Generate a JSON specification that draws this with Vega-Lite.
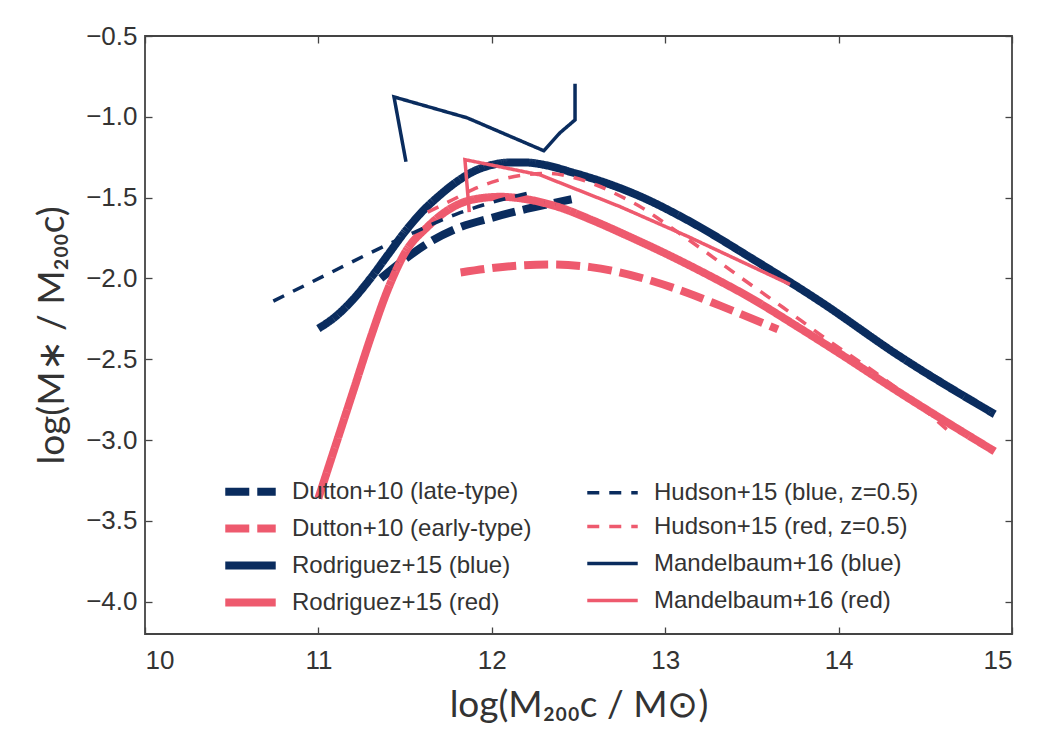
{
  "$schema": "https://vega.github.io/schema/vega-lite/v6.json",
  "width": 867,
  "height": 598,
  "autosize": {"type": "none"},
  "padding": {"left": 145, "top": 36, "right": 38, "bottom": 116},
  "background": "white",
  "config": {
    "view": {"stroke": "#444", "strokeWidth": 1.8},
    "axis": {
      "domain": false,
      "grid": false,
      "tickColor": "#444",
      "tickSize": -7,
      "tickWidth": 1.3,
      "labelFont": "Liberation Sans",
      "labelFontSize": 26,
      "labelColor": "#333",
      "titleFont": "Lato",
      "titleFontSize": 37,
      "titleFontWeight": "normal",
      "titleColor": "#333"
    },
    "legend": {
      "orient": "none",
      "legendX": 85,
      "legendY": 435,
      "columns": 2,
      "gridAlign": "each",
      "columnPadding": 48,
      "rowPadding": 0,
      "padding": 0,
      "symbolType": "M-1.55,0H1.55",
      "symbolSize": 1060,
      "labelFont": "Liberation Sans",
      "labelFontSize": 24,
      "labelColor": "#333",
      "labelOffset": 21,
      "labelLimit": 400
    }
  },
  "data": {
    "values": [
      {"series": "Dutton+10 (late-type)", "k": 0, "x": 11.36, "y": -2.0},
      {"series": "Dutton+10 (late-type)", "k": 1, "x": 11.5, "y": -1.88},
      {"series": "Dutton+10 (late-type)", "k": 2, "x": 11.65, "y": -1.77},
      {"series": "Dutton+10 (late-type)", "k": 3, "x": 11.8, "y": -1.69},
      {"series": "Dutton+10 (late-type)", "k": 4, "x": 12.0, "y": -1.625},
      {"series": "Dutton+10 (late-type)", "k": 5, "x": 12.2, "y": -1.57},
      {"series": "Dutton+10 (late-type)", "k": 6, "x": 12.46, "y": -1.51},

      {"series": "Dutton+10 (early-type)", "k": 0, "x": 11.82, "y": -1.963},
      {"series": "Dutton+10 (early-type)", "k": 1, "x": 12.09, "y": -1.926},
      {"series": "Dutton+10 (early-type)", "k": 2, "x": 12.34, "y": -1.914},
      {"series": "Dutton+10 (early-type)", "k": 3, "x": 12.57, "y": -1.93},
      {"series": "Dutton+10 (early-type)", "k": 4, "x": 12.84, "y": -1.99},
      {"series": "Dutton+10 (early-type)", "k": 5, "x": 13.13, "y": -2.09},
      {"series": "Dutton+10 (early-type)", "k": 6, "x": 13.32, "y": -2.17},
      {"series": "Dutton+10 (early-type)", "k": 7, "x": 13.65, "y": -2.315},

      {"series": "Rodriguez+15 (blue)", "k": 0, "x": 11.0, "y": -2.31},
      {"series": "Rodriguez+15 (blue)", "k": 1, "x": 11.1, "y": -2.235},
      {"series": "Rodriguez+15 (blue)", "k": 2, "x": 11.2, "y": -2.13},
      {"series": "Rodriguez+15 (blue)", "k": 3, "x": 11.3, "y": -2.0},
      {"series": "Rodriguez+15 (blue)", "k": 4, "x": 11.4, "y": -1.855},
      {"series": "Rodriguez+15 (blue)", "k": 5, "x": 11.5, "y": -1.71},
      {"series": "Rodriguez+15 (blue)", "k": 6, "x": 11.6, "y": -1.585},
      {"series": "Rodriguez+15 (blue)", "k": 7, "x": 11.7, "y": -1.485},
      {"series": "Rodriguez+15 (blue)", "k": 8, "x": 11.8, "y": -1.4},
      {"series": "Rodriguez+15 (blue)", "k": 9, "x": 11.9, "y": -1.335},
      {"series": "Rodriguez+15 (blue)", "k": 10, "x": 12.0, "y": -1.298},
      {"series": "Rodriguez+15 (blue)", "k": 11, "x": 12.1, "y": -1.283},
      {"series": "Rodriguez+15 (blue)", "k": 12, "x": 12.2, "y": -1.283},
      {"series": "Rodriguez+15 (blue)", "k": 13, "x": 12.3, "y": -1.297},
      {"series": "Rodriguez+15 (blue)", "k": 14, "x": 12.47, "y": -1.346},
      {"series": "Rodriguez+15 (blue)", "k": 15, "x": 12.66, "y": -1.41},
      {"series": "Rodriguez+15 (blue)", "k": 16, "x": 12.84, "y": -1.485},
      {"series": "Rodriguez+15 (blue)", "k": 17, "x": 13.13, "y": -1.64},
      {"series": "Rodriguez+15 (blue)", "k": 18, "x": 13.51, "y": -1.883},
      {"series": "Rodriguez+15 (blue)", "k": 19, "x": 13.89, "y": -2.14},
      {"series": "Rodriguez+15 (blue)", "k": 20, "x": 14.35, "y": -2.48},
      {"series": "Rodriguez+15 (blue)", "k": 21, "x": 14.9, "y": -2.84},

      {"series": "Rodriguez+15 (red)", "k": 0, "x": 11.0, "y": -3.36},
      {"series": "Rodriguez+15 (red)", "k": 1, "x": 11.1, "y": -3.03},
      {"series": "Rodriguez+15 (red)", "k": 2, "x": 11.2, "y": -2.7},
      {"series": "Rodriguez+15 (red)", "k": 3, "x": 11.3, "y": -2.37},
      {"series": "Rodriguez+15 (red)", "k": 4, "x": 11.4, "y": -2.07},
      {"series": "Rodriguez+15 (red)", "k": 5, "x": 11.5, "y": -1.84},
      {"series": "Rodriguez+15 (red)", "k": 6, "x": 11.63, "y": -1.68},
      {"series": "Rodriguez+15 (red)", "k": 7, "x": 11.78, "y": -1.556},
      {"series": "Rodriguez+15 (red)", "k": 8, "x": 11.9, "y": -1.51},
      {"series": "Rodriguez+15 (red)", "k": 9, "x": 12.05, "y": -1.495},
      {"series": "Rodriguez+15 (red)", "k": 10, "x": 12.2, "y": -1.51},
      {"series": "Rodriguez+15 (red)", "k": 11, "x": 12.39, "y": -1.56},
      {"series": "Rodriguez+15 (red)", "k": 12, "x": 12.58, "y": -1.64},
      {"series": "Rodriguez+15 (red)", "k": 13, "x": 12.78, "y": -1.735},
      {"series": "Rodriguez+15 (red)", "k": 14, "x": 13.0, "y": -1.845},
      {"series": "Rodriguez+15 (red)", "k": 15, "x": 13.25, "y": -1.98},
      {"series": "Rodriguez+15 (red)", "k": 16, "x": 13.5, "y": -2.125},
      {"series": "Rodriguez+15 (red)", "k": 17, "x": 13.75, "y": -2.29},
      {"series": "Rodriguez+15 (red)", "k": 18, "x": 14.0, "y": -2.46},
      {"series": "Rodriguez+15 (red)", "k": 19, "x": 14.35, "y": -2.705},
      {"series": "Rodriguez+15 (red)", "k": 20, "x": 14.9, "y": -3.07},

      {"series": "Hudson+15 (blue, z=0.5)", "k": 0, "x": 10.74, "y": -2.14},
      {"series": "Hudson+15 (blue, z=0.5)", "k": 1, "x": 11.05, "y": -1.975},
      {"series": "Hudson+15 (blue, z=0.5)", "k": 2, "x": 11.28, "y": -1.852},
      {"series": "Hudson+15 (blue, z=0.5)", "k": 3, "x": 11.55, "y": -1.716},
      {"series": "Hudson+15 (blue, z=0.5)", "k": 4, "x": 11.8, "y": -1.6},
      {"series": "Hudson+15 (blue, z=0.5)", "k": 5, "x": 12.0, "y": -1.53},
      {"series": "Hudson+15 (blue, z=0.5)", "k": 6, "x": 12.24, "y": -1.465},

      {"series": "Hudson+15 (red, z=0.5)", "k": 0, "x": 11.63, "y": -1.59},
      {"series": "Hudson+15 (red, z=0.5)", "k": 1, "x": 11.78, "y": -1.51},
      {"series": "Hudson+15 (red, z=0.5)", "k": 2, "x": 11.89, "y": -1.45},
      {"series": "Hudson+15 (red, z=0.5)", "k": 3, "x": 12.03, "y": -1.395},
      {"series": "Hudson+15 (red, z=0.5)", "k": 4, "x": 12.18, "y": -1.36},
      {"series": "Hudson+15 (red, z=0.5)", "k": 5, "x": 12.32, "y": -1.35},
      {"series": "Hudson+15 (red, z=0.5)", "k": 6, "x": 12.47, "y": -1.375},
      {"series": "Hudson+15 (red, z=0.5)", "k": 7, "x": 12.61, "y": -1.425},
      {"series": "Hudson+15 (red, z=0.5)", "k": 8, "x": 12.74, "y": -1.49},
      {"series": "Hudson+15 (red, z=0.5)", "k": 9, "x": 12.87, "y": -1.565},
      {"series": "Hudson+15 (red, z=0.5)", "k": 10, "x": 13.0, "y": -1.66},
      {"series": "Hudson+15 (red, z=0.5)", "k": 11, "x": 13.2, "y": -1.81},
      {"series": "Hudson+15 (red, z=0.5)", "k": 12, "x": 13.43, "y": -1.99},
      {"series": "Hudson+15 (red, z=0.5)", "k": 13, "x": 13.68, "y": -2.18},
      {"series": "Hudson+15 (red, z=0.5)", "k": 14, "x": 13.91, "y": -2.36},
      {"series": "Hudson+15 (red, z=0.5)", "k": 15, "x": 14.26, "y": -2.62},
      {"series": "Hudson+15 (red, z=0.5)", "k": 16, "x": 14.48, "y": -2.8},
      {"series": "Hudson+15 (red, z=0.5)", "k": 17, "x": 14.63, "y": -2.94},

      {"series": "Mandelbaum+16 (blue)", "k": 0, "x": 11.505, "y": -1.278},
      {"series": "Mandelbaum+16 (blue)", "k": 1, "x": 11.436, "y": -0.877},
      {"series": "Mandelbaum+16 (blue)", "k": 2, "x": 11.857, "y": -1.006},
      {"series": "Mandelbaum+16 (blue)", "k": 3, "x": 12.3, "y": -1.21},
      {"series": "Mandelbaum+16 (blue)", "k": 4, "x": 12.393, "y": -1.099},
      {"series": "Mandelbaum+16 (blue)", "k": 5, "x": 12.48, "y": -1.019},
      {"series": "Mandelbaum+16 (blue)", "k": 6, "x": 12.48, "y": -0.796},

      {"series": "Mandelbaum+16 (red)", "k": 0, "x": 11.87, "y": -1.59},
      {"series": "Mandelbaum+16 (red)", "k": 1, "x": 11.845, "y": -1.265},
      {"series": "Mandelbaum+16 (red)", "k": 2, "x": 12.28, "y": -1.36},
      {"series": "Mandelbaum+16 (red)", "k": 3, "x": 12.74, "y": -1.556},
      {"series": "Mandelbaum+16 (red)", "k": 4, "x": 13.13, "y": -1.74},
      {"series": "Mandelbaum+16 (red)", "k": 5, "x": 13.72, "y": -2.037}
    ]
  },
  "encoding": {
    "color": {
      "field": "series",
      "type": "nominal",
      "title": null,
      "scale": {
        "domain": ["Dutton+10 (late-type)", "Dutton+10 (early-type)", "Rodriguez+15 (blue)", "Rodriguez+15 (red)", "Hudson+15 (blue, z=0.5)", "Hudson+15 (red, z=0.5)", "Mandelbaum+16 (blue)", "Mandelbaum+16 (red)"],
        "range": ["#0a2c5e", "#ee5a6e", "#0a2c5e", "#ee5a6e", "#0a2c5e", "#ee5a6e", "#0a2c5e", "#ee5a6e"]
      }
    },
    "strokeDash": {
      "field": "series",
      "type": "nominal",
      "title": null,
      "scale": {
        "domain": ["Dutton+10 (late-type)", "Dutton+10 (early-type)", "Rodriguez+15 (blue)", "Rodriguez+15 (red)", "Hudson+15 (blue, z=0.5)", "Hudson+15 (red, z=0.5)", "Mandelbaum+16 (blue)", "Mandelbaum+16 (red)"],
        "range": [[24, 8], [24, 8], [1, 0], [1, 0], [12, 10], [12, 10], [1, 0], [1, 0]]
      }
    },
    "strokeWidth": {
      "field": "series",
      "type": "nominal",
      "title": null,
      "scale": {
        "type": "ordinal",
        "domain": ["Dutton+10 (late-type)", "Dutton+10 (early-type)", "Rodriguez+15 (blue)", "Rodriguez+15 (red)", "Hudson+15 (blue, z=0.5)", "Hudson+15 (red, z=0.5)", "Mandelbaum+16 (blue)", "Mandelbaum+16 (red)"],
        "range": [8, 8, 8, 8, 3.5, 3.5, 3.5, 3.5]
      }
    }
  },
  "layer": [
    {
      "transform": [
        {"filter": {"not": {"field": "series", "oneOf": ["Mandelbaum+16 (blue)", "Mandelbaum+16 (red)"]}}}
      ],
      "mark": {"type": "line", "interpolate": "monotone", "strokeCap": "butt"},
      "encoding": {
        "x": {
          "field": "x",
          "type": "quantitative",
          "scale": {"domain": [10, 15], "nice": false, "zero": false},
          "axis": {"orient": "bottom", "values": [10, 11, 12, 13, 14, 15], "format": "d", "labelPadding": 20, "title": "log(M₂₀₀c / M⊙)", "titlePadding": 14}
        },
        "y": {
          "field": "y",
          "type": "quantitative",
          "scale": {"domain": [-4.2, -0.5], "nice": false, "zero": false},
          "axis": {"orient": "left", "values": [-4, -3.5, -3, -2.5, -2, -1.5, -1, -0.5], "format": ".1f", "labelPadding": 15, "title": "log(M∗ / M₂₀₀c)", "titlePadding": 14}
        },
        "order": {"field": "k", "type": "quantitative"}
      }
    },
    {
      "transform": [
        {"filter": {"field": "series", "oneOf": ["Mandelbaum+16 (blue)", "Mandelbaum+16 (red)"]}}
      ],
      "mark": {"type": "line", "interpolate": "linear", "strokeCap": "butt"},
      "encoding": {
        "x": {
          "field": "x",
          "type": "quantitative",
          "scale": {"domain": [10, 15], "nice": false, "zero": false},
          "axis": {"orient": "top", "values": [10, 11, 12, 13, 14, 15], "labels": false, "title": null}
        },
        "y": {
          "field": "y",
          "type": "quantitative",
          "scale": {"domain": [-4.2, -0.5], "nice": false, "zero": false},
          "axis": {"orient": "right", "values": [-4, -3.5, -3, -2.5, -2, -1.5, -1, -0.5], "labels": false, "title": null}
        },
        "order": {"field": "k", "type": "quantitative"}
      }
    }
  ],
  "resolve": {"axis": {"x": "independent", "y": "independent"}}
}
